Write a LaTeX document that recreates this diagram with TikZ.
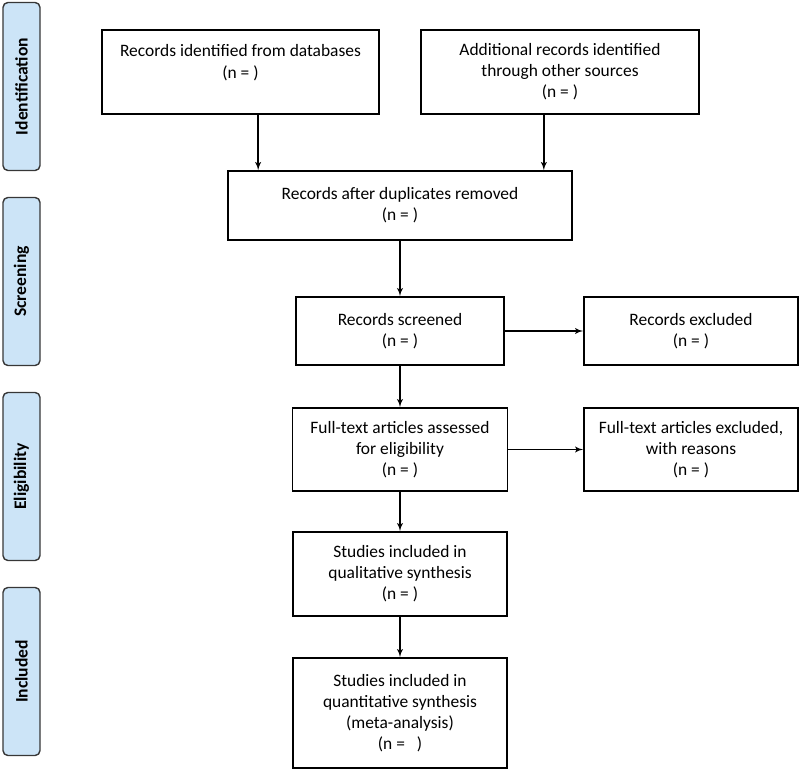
\documentclass[tikz,border=0pt]{standalone}
\usepackage{fontspec}
\setmainfont{Carlito}
\usetikzlibrary{shapes,arrows}
\definecolor{phasefill}{RGB}{204,228,247}
\definecolor{phaseline}{RGB}{55,55,55}

\begin{document}
\begin{tikzpicture}[auto,>=latex']
    \tikzstyle{block} = [draw, shape=rectangle, align=center, inner sep=0pt, line width=1.2pt, font=\fontsize{12.4}{15}\selectfont]
    \tikzstyle{phase} = [draw=phaseline, fill=phasefill, shape=rectangle, rounded corners=3.5pt, minimum width=0.925cm, minimum height=4.2cm, line width=1pt, node distance=4.875cm, font=\fontsize{12.5}{15}\selectfont\bfseries]
    \useasboundingbox (0,0) rectangle (20,-19.325);
    %Phase labels
    \node [phase] at (0.5375,-2.1625) (ident) {\rotatebox{90}{Identification}};
    \node [phase, below of=ident] (screen) {\rotatebox{90}{Screening}};
    \node [phase, below of=screen] (elig) {\rotatebox{90}{Eligibility}};
    \node [phase, below of=elig] (incl) {\rotatebox{90}{Included}};

    %Creating Blocks
    \node [block, minimum width=8.6cm, minimum height=1.725cm] at (10,-5.1375) (dupl) {Records after duplicates removed\\(n = )};
    \node [block, minimum width=6.925cm, minimum height=2.1cm, above of=dupl, node distance=3.3375cm, xshift=-3.9875cm] (dbase) {Records identified from databases\\(n = )\\\mbox{}};
    \node [block, minimum width=6.95cm, minimum height=2.1cm, right of=dbase, node distance=7.9875cm] (other) {Additional records identified\\through other sources\\(n = )};
    \node [block, minimum width=5.2cm, minimum height=1.7cm, below of=dupl, node distance=3.1375cm] (screened) {Records screened\\(n = )};
    \node [block, minimum width=5.35cm, minimum height=1.7cm, right of=screened, node distance=7.275cm] (excluded) {Records excluded\\(n = )};
    \node [block, minimum width=5.375cm, minimum height=2.075cm, below of=screened, node distance=2.9625cm] (assessed) {Full-text articles assessed\\for eligibility\\(n = )};
    \node [block, minimum width=5.35cm, minimum height=2.075cm, right of=assessed, node distance=7.275cm] (ft_excluded) {Full-text articles excluded,\\with reasons\\(n = )};
    \node [block, minimum width=5.35cm, minimum height=2.1cm, below of=assessed, node distance=3.1125cm] (qual) {Studies included in\\qualitative synthesis\\(n = )};
    \node [block, minimum width=5.35cm, minimum height=2.75cm, below of=qual, node distance=3.475cm] (quant) {Studies included in\\quantitative synthesis\\(meta-analysis)\\(n =\ \ \ )};
    \coordinate (in_1) at ([xshift=0.775cm]dupl.north west);
    \coordinate (in_2) at ([xshift=-0.725cm]dupl.north east);

    %Connecting Blocks
    \begin{scope}[line width=1pt]
        \draw[->] (dbase.south -| in_1) -- (in_1);
        \draw[->] (other.south -| in_2) -- (in_2);
        \draw[->] (dupl) -- (screened);
        \draw[->] (screened) -- (excluded);
        \draw[->] (screened) -- (assessed);
        \draw[->] (assessed) -- (ft_excluded);
        \draw[->] (assessed) -- (qual);
        \draw[->] (qual) -- (quant);
    \end{scope}
\end{tikzpicture}
\end{document}
